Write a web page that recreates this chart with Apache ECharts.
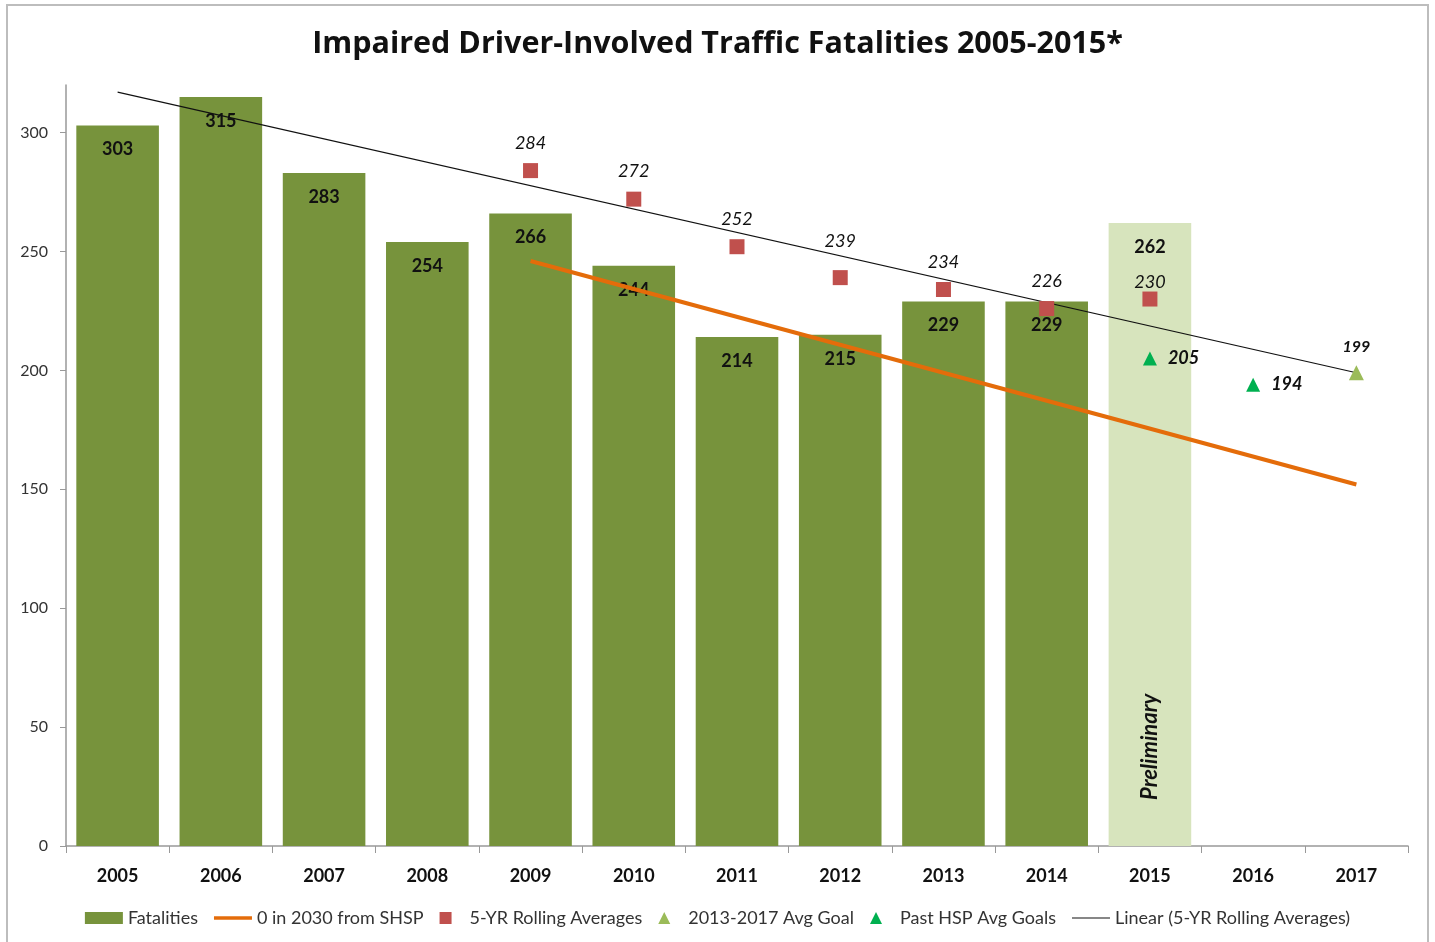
<!DOCTYPE html>
<html>
<head>
<meta charset="utf-8">
<script src="https://cdn.jsdelivr.net/npm/echarts@6/dist/echarts.min.js"></script>
<style>
  html, body { margin: 0; padding: 0; background: #fff; }
  #main { width: 1435px; height: 942px; }
</style>
</head>
<body>
<div id="main"></div>
<script>
// categories and values
var years = ['2005', '2006', '2007', '2008', '2009', '2010', '2011', '2012', '2013', '2014', '2015', '2016', '2017']
var fatalities = [303, 315, 283, 254, 266, 244, 214, 215, 229, 229, 262, null, null]
var preliminary = [null, null, null, null, null, null, null, null, null, null, 262, null, null]
var shspLine = [null, null, null, null, 246, null, null, null, null, null, null, null, 152]
var rollingAvg = [null, null, null, null, 284, 272, 252, 239, 234, 226, 230, null, null]
var goal2017 = [null, null, null, null, null, null, null, null, null, null, null, null, 199]
var pastGoals = [null, null, null, null, null, null, null, null, null, null, 205, 194, null]
var trendLine = [317, null, null, null, null, null, null, null, null, null, null, null, 199]
var yTicks = [0, 50, 100, 150, 200, 250, 300]

var font = 'Lato, "Open Sans", sans-serif'

var mychart = echarts.init(document.getElementById('main'))

// bar data: 2015 is the light "preliminary" bar
var barData = fatalities.map(function (v, i) {
  if (v === null) return null
  if (years[i] === '2015') {
    return { value: v, itemStyle: { color: '#D7E4BD' } }
  }
  return v
})

// a couple of the rolling average labels sit higher / lower in the original
var avgLabelDist = { '2012': 20, '2015': 0 }
var avgData = rollingAvg.map(function (v, i) {
  if (v === null) return null
  if (avgLabelDist[years[i]] !== undefined) {
    return { value: v, label: { distance: avgLabelDist[years[i]] } }
  }
  return v
})

var option = {
  backgroundColor: '#fff',
  animation: false,
  textStyle: { fontFamily: font },
  title: {
    text: 'Impaired Driver-Involved Traffic Fatalities 2005-2015*',
    left: 'center',
    top: 24,
    textStyle: {
      fontFamily: '"Open Sans", sans-serif',
      fontSize: 30.5,
      fontWeight: 'bold',
      color: '#111'
    }
  },
  graphic: [
    {
      type: 'rect',
      shape: { x: 7, y: 5, width: 1421, height: 945 },
      style: { fill: 'none', stroke: '#bdbdbd', lineWidth: 2 },
      silent: true
    }
  ],
  legend: {
    bottom: 10,
    left: 'center',
    itemGap: 16,
    itemWidth: 38,
    itemHeight: 12,
    textStyle: { fontFamily: font, fontSize: 18, color: '#333' },
    data: [
      { name: 'Fatalities', icon: 'rect' },
      { name: '0 in 2030 from SHSP', icon: 'path://M0,0L38,0L38,3.5L0,3.5Z' },
      { name: '5-YR Rolling Averages', icon: 'path://M0,0L10,0L10,10L0,10Z' },
      { name: '2013-2017 Avg Goal', icon: 'path://M5,0L10,10L0,10Z' },
      { name: 'Past HSP Avg Goals', icon: 'path://M5,0L10,10L0,10Z' },
      { name: 'Linear (5-YR Rolling Averages)', icon: 'path://M0,0L38,0L38,1.2L0,1.2Z' }
    ]
  },
  grid: { left: 66, right: 27, top: 85, bottom: 96 },
  xAxis: {
    type: 'category',
    data: years,
    axisLine: { lineStyle: { color: '#999', width: 1.5 } },
    axisTick: { show: true, length: 7, lineStyle: { color: '#999' } },
    axisLabel: { fontFamily: font, fontSize: 18, fontWeight: 'bold', color: '#111', margin: 21 }
  },
  yAxis: {
    type: 'value',
    min: yTicks[0],
    max: 320,
    interval: 50,
    splitLine: { show: false },
    axisLine: { show: true, lineStyle: { color: '#999', width: 1.5 } },
    axisTick: { show: true, length: 6, lineStyle: { color: '#999' } },
    axisLabel: {
      fontFamily: font,
      fontSize: 16,
      color: '#333',
      margin: 18,
      showMaxLabel: false
    }
  },
  series: [
    {
      name: 'Fatalities',
      type: 'bar',
      barWidth: '80%',
      itemStyle: { color: '#77933C' },
      label: {
        show: true,
        position: 'insideTop',
        distance: 15,
        fontFamily: font,
        fontSize: 18,
        fontWeight: 'bold',
        color: '#111'
      },
      data: barData,
      z: 1
    },
    {
      name: 'Preliminary',
      type: 'bar',
      barWidth: '80%',
      barGap: '-100%',
      itemStyle: { color: 'rgba(0,0,0,0)' },
      label: {
        show: true,
        position: 'insideBottom',
        rotate: 90,
        align: 'left',
        verticalAlign: 'middle',
        distance: 46,
        formatter: 'Preliminary',
        fontFamily: font,
        fontSize: 22,
        fontWeight: 'bold',
        fontStyle: 'italic',
        color: '#111'
      },
      data: preliminary,
      z: 2
    },
    {
      name: '0 in 2030 from SHSP',
      type: 'line',
      data: shspLine,
      connectNulls: true,
      showSymbol: false,
      symbol: 'none',
      lineStyle: { color: '#E46C0A', width: 4 },
      itemStyle: { color: '#E46C0A' },
      z: 3
    },
    {
      name: 'Linear (5-YR Rolling Averages)',
      type: 'line',
      data: trendLine,
      connectNulls: true,
      showSymbol: false,
      symbol: 'none',
      lineStyle: { color: '#111', width: 1.2 },
      itemStyle: { color: '#111' },
      z: 4
    },
    {
      name: '5-YR Rolling Averages',
      type: 'scatter',
      symbol: 'rect',
      symbolSize: 15,
      itemStyle: { color: '#C0504D', opacity: 1 },
      label: {
        show: true,
        position: 'top',
        distance: 11,
        fontFamily: font,
        fontSize: 18,
        fontStyle: 'italic',
        color: '#111'
      },
      data: avgData,
      z: 5
    },
    {
      name: '2013-2017 Avg Goal',
      type: 'scatter',
      symbol: 'triangle',
      symbolSize: 15,
      itemStyle: { color: '#9BBB59', opacity: 1 },
      label: {
        show: true,
        position: 'top',
        distance: 10,
        fontFamily: font,
        fontSize: 16,
        fontStyle: 'italic',
        fontWeight: 'bold',
        color: '#111'
      },
      data: goal2017,
      z: 5
    },
    {
      name: 'Past HSP Avg Goals',
      type: 'scatter',
      symbol: 'triangle',
      symbolSize: 14,
      itemStyle: { color: '#00B050', opacity: 1 },
      label: {
        show: true,
        position: 'right',
        distance: 11,
        fontFamily: font,
        fontSize: 18,
        fontStyle: 'italic',
        fontWeight: 'bold',
        color: '#111'
      },
      data: pastGoals,
      z: 5
    }
  ]
}

mychart.setOption(option)
</script>
</body>
</html>
